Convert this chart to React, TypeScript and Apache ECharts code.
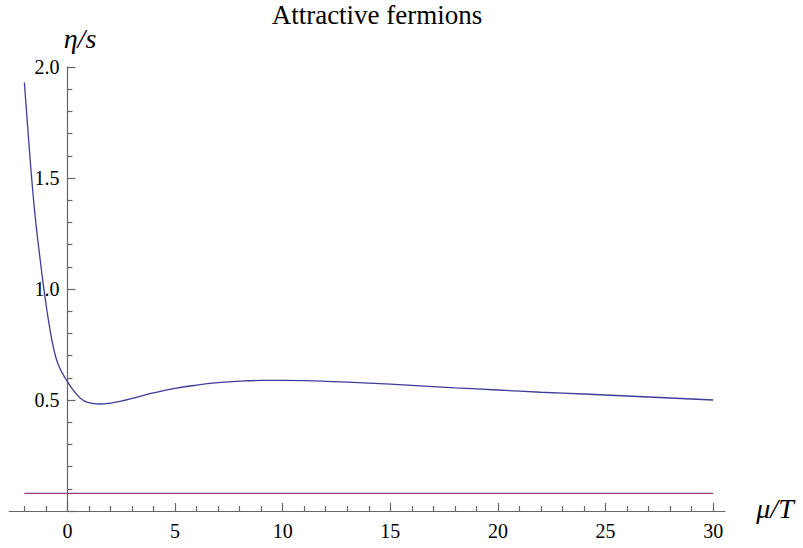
import React, { useEffect, useRef } from "react";
import * as echarts from "echarts";

// chemical potential over temperature (x) and eta/s (y)
const muT = [
  -2.0, -1.9, -1.8, -1.7, -1.6, -1.5, -1.4, -1.3, -1.2, -1.1, -1.0, -0.9, -0.8, -0.7, -0.6, -0.5, -0.4, -0.3,
  -0.2, -0.1, 0.0, 0.1, 0.2, 0.3, 0.4, 0.5, 0.6, 0.8, 1.0, 1.2, 1.5, 2.0, 2.5, 3.0, 3.5, 4.0, 5.0, 6.0, 7.0,
  8.0, 9.0, 10.0, 11.0, 12.0, 14.0, 16.0, 18.0, 20.0, 22.0, 24.0, 26.0, 28.0, 30.0,
];
const etaS = [
  1.93, 1.8, 1.67, 1.545, 1.43, 1.33, 1.24, 1.16, 1.08, 1.005, 0.935, 0.87, 0.812, 0.76, 0.715, 0.68, 0.654,
  0.633, 0.615, 0.598, 0.583, 0.568, 0.554, 0.541, 0.529, 0.518, 0.508, 0.495, 0.488, 0.484, 0.482, 0.486, 0.495,
  0.507, 0.52, 0.532, 0.552, 0.567, 0.578, 0.585, 0.588, 0.588, 0.587, 0.584, 0.576, 0.566, 0.555, 0.545,
  0.535, 0.527, 0.518, 0.509, 0.5,
];
// KSS bound line
const kssX = [-2, 30];
const kssY = [0.0796, 0.0796];

const xMajorTicks = [0, 5, 10, 15, 20, 25, 30];
const xMinorTicks = [
  -2, -1, 1, 2, 3, 4, 6, 7, 8, 9, 11, 12, 13, 14, 16, 17, 18, 19, 21, 22, 23, 24, 26, 27, 28, 29,
];

const titleText = "Attractive fermions";
const yName = "η/s";
const xName = "μ/T";

export default function App() {
  const ref = useRef<HTMLDivElement>(null);
  useEffect(() => {
    if (!ref.current) return;
    const chart = echarts.init(ref.current, null, { renderer: "svg" });
    const axisColor = "#666666";
    const tickStyle = { color: axisColor, width: 1.2 };
    const serif = "Liberation Serif";
    chart.setOption({
      animation: false,
      backgroundColor: "#ffffff",
      textStyle: { fontFamily: serif },
      grid: [
        { left: 9.3, right: 78, top: 67, bottom: 37, containLabel: false, outerBoundsMode: "none" },
        { left: 67.4, right: 78, top: 67, bottom: 37, containLabel: false, outerBoundsMode: "none" },
      ],
      xAxis: [
        {
          type: "value",
          gridIndex: 0,
          min: -2.7,
          max: 30.55,
          position: "bottom",
          axisLine: { show: true, onZero: false, lineStyle: { color: axisColor, width: 1.2 } },
          axisTick: { show: true, inside: true, length: 8, customValues: xMajorTicks, lineStyle: tickStyle },
          axisLabel: {
            show: true,
            customValues: xMajorTicks,
            margin: 10,
            color: "#000",
            fontFamily: serif,
            fontSize: 20,
          },
          splitLine: { show: false },
        },
        {
          type: "value",
          gridIndex: 0,
          min: -2.7,
          max: 30.55,
          position: "bottom",
          axisLine: { show: false, onZero: false },
          axisTick: { show: true, inside: true, length: 5, customValues: xMinorTicks, lineStyle: tickStyle },
          axisLabel: { show: false },
          splitLine: { show: false },
        },
        {
          type: "value",
          gridIndex: 1,
          min: 0,
          max: 30.55,
          show: false,
          axisLine: { show: false, onZero: false },
          splitLine: { show: false },
        },
      ],
      yAxis: [
        {
          type: "value",
          gridIndex: 0,
          min: 0,
          max: 2,
          show: false,
          axisLine: { show: false, onZero: false },
          splitLine: { show: false },
        },
        {
          type: "value",
          gridIndex: 1,
          min: 0,
          max: 2,
          interval: 0.5,
          position: "left",
          axisLine: { show: true, onZero: false, lineStyle: { color: axisColor, width: 1.2 } },
          axisTick: { show: true, inside: true, length: 8, lineStyle: tickStyle },
          minorTick: { show: true, splitNumber: 5, length: 5, lineStyle: tickStyle },
          axisLabel: {
            formatter: (v: number) => (v === 0 ? "" : v.toFixed(1)),
            margin: 8,
            color: "#000",
            fontFamily: serif,
            fontSize: 20,
          },
          splitLine: { show: false },
        },
      ],
      series: [
        {
          type: "line",
          xAxisIndex: 0,
          yAxisIndex: 0,
          data: muT.map((x, i) => [x, etaS[i]]),
          showSymbol: false,
          symbol: "none",
          smooth: 0.5,
          lineStyle: { color: "#3d3d99", width: 1.3 },
          clip: false,
        },
        {
          type: "line",
          xAxisIndex: 0,
          yAxisIndex: 0,
          data: kssX.map((x, i) => [x, kssY[i]]),
          showSymbol: false,
          symbol: "none",
          lineStyle: { color: "#993d74", width: 1.3 },
        },
      ],
      graphic: [
        {
          type: "text",
          x: 377,
          y: 15,
          style: {
            text: titleText,
            fontFamily: serif,
            fontSize: 27,
            fill: "#000",
            align: "center",
            verticalAlign: "middle",
          },
        },
        {
          type: "text",
          x: 80,
          y: 38,
          style: {
            text: yName,
            fontFamily: serif,
            fontStyle: "italic",
            fontSize: 28,
            fill: "#000",
            align: "center",
            verticalAlign: "middle",
          },
        },
        {
          type: "text",
          x: 775,
          y: 508,
          style: {
            text: xName,
            fontFamily: serif,
            fontStyle: "italic",
            fontSize: 28,
            fill: "#000",
            align: "center",
            verticalAlign: "middle",
          },
        },
      ],
    });
    return () => chart.dispose();
  }, []);
  return (
    <div
      ref={ref}
      style={{ position: "absolute", left: 0, top: 0, width: 803, height: 548 }}
    />
  );
}
